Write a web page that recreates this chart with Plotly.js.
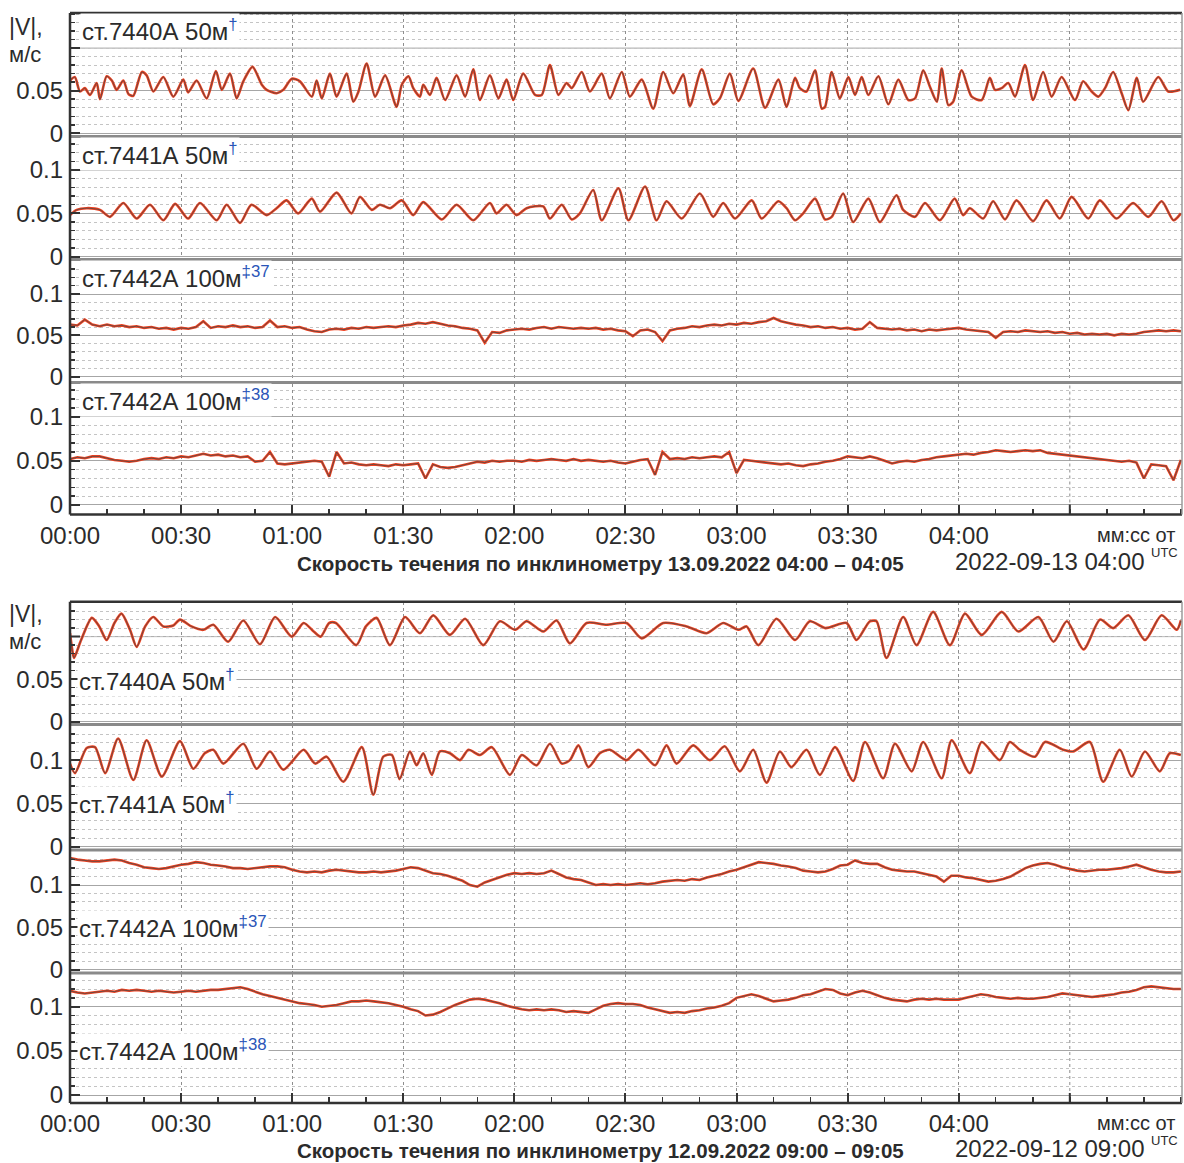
<!DOCTYPE html>
<html>
<head>
<meta charset="utf-8">
<script src="https://cdn.plot.ly/plotly-3.0.1.min.js"></script>
<style>
html,body{margin:0;padding:0;background:#fff;}
#chart{width:1184px;height:1163px;}
</style>
</head>
<body>
<div id="chart"></div>
<script>
// ---------------- DATA (seconds from start, |V| in m/s) ----------------
// Upper group: 13.09.2022 04:00-04:05
const top7440t = [0.0,1.3,2.7,4.0,5.4,7.2,8.1,9.9,11.3,12.6,14.4,15.8,17.1,19.4,20.7,22.5,25.2,27.9,30.6,31.9,34.2,36.9,39.4,41.0,43.2,45.0,46.8,49.3,51.8,53.1,55.8,57.6,59.9,62.1,65.3,66.6,68.0,70.2,72.0,74.7,76.5,77.9,80.1,82.4,85.1,88.2,89.6,91.4,92.7,94.5,95.4,97.2,99.0,101.3,104.4,106.7,108.9,110.7,113.4,115.7,117.9,119.7,122.4,125.6,127.4,129.6,131.9,134.1,135.5,138.2,140.4,143.6,145.8,149.0,151.2,154.4,157.5,160.2,162.9,165.6,167.4,170.6,173.7,175.5,178.2,180.5,184.5,187.7,191.3,193.5,195.8,197.1,198.9,201.2,203.0,203.9,205.7,207.9,210.2,212.0,213.8,215.6,218.3,221.0,223.7,226.4,228.2,230.4,232.2,234.1,235.4,237.2,238.5,240.8,243.5,246.2,248.4,249.8,251.6,253.4,255.2,257.9,260.1,262.8,265.1,267.8,271.4,273.6,275.9,277.7,279.5,281.7,284.0,285.8,288.1,289.8,293.9,296.6,299.8];
const top7440v = [0.062,0.066,0.049,0.053,0.045,0.059,0.040,0.067,0.062,0.051,0.062,0.046,0.044,0.072,0.068,0.049,0.066,0.043,0.063,0.048,0.062,0.041,0.073,0.051,0.070,0.041,0.061,0.078,0.057,0.051,0.047,0.051,0.064,0.061,0.043,0.062,0.041,0.070,0.043,0.070,0.037,0.049,0.082,0.043,0.068,0.031,0.057,0.067,0.053,0.043,0.057,0.045,0.065,0.039,0.068,0.043,0.075,0.039,0.068,0.041,0.063,0.039,0.070,0.045,0.045,0.080,0.045,0.059,0.053,0.072,0.049,0.070,0.041,0.072,0.043,0.063,0.029,0.072,0.047,0.069,0.032,0.075,0.034,0.041,0.070,0.038,0.076,0.030,0.063,0.031,0.065,0.053,0.049,0.074,0.029,0.031,0.072,0.041,0.066,0.045,0.066,0.045,0.067,0.034,0.063,0.039,0.041,0.074,0.055,0.037,0.076,0.033,0.037,0.074,0.043,0.039,0.065,0.051,0.053,0.059,0.043,0.080,0.039,0.072,0.043,0.066,0.039,0.061,0.049,0.043,0.053,0.072,0.047,0.027,0.065,0.037,0.066,0.049,0.051];

const top7441t = [0.0,1.8,4.5,8.1,10.8,14.4,18.0,21.6,25.2,28.4,31.9,35.1,39.6,42.3,45.9,49.0,53.1,55.8,58.5,61.6,65.3,67.5,72.0,76.0,78.3,81.5,83.7,86.4,89.6,92.7,95.4,100.4,104.4,108.9,113.4,115.2,117.9,120.6,123.3,127.8,129.6,132.8,135.5,137.7,141.3,143.6,148.1,150.8,155.3,158.4,161.1,165.2,170.1,173.7,176.4,179.6,184.1,186.8,191.3,193.5,195.8,198.0,201.2,203.9,205.7,208.8,211.5,215.6,218.7,223.2,225.0,228.2,230.9,234.9,238.9,241.2,243.0,246.6,249.3,252.5,255.6,260.1,263.7,267.3,270.5,275.0,278.1,282.6,287.1,291.2,294.8,298.0,300.0];
const top7441v = [0.048,0.054,0.056,0.054,0.046,0.062,0.044,0.060,0.042,0.061,0.044,0.062,0.042,0.060,0.039,0.060,0.048,0.056,0.065,0.050,0.067,0.052,0.074,0.050,0.069,0.054,0.060,0.056,0.065,0.048,0.063,0.043,0.060,0.042,0.062,0.050,0.060,0.048,0.056,0.058,0.044,0.060,0.043,0.050,0.077,0.042,0.079,0.042,0.081,0.042,0.064,0.044,0.073,0.046,0.062,0.044,0.065,0.044,0.064,0.056,0.042,0.050,0.067,0.043,0.046,0.073,0.040,0.067,0.040,0.071,0.054,0.046,0.062,0.042,0.067,0.048,0.056,0.044,0.064,0.043,0.065,0.041,0.065,0.044,0.069,0.044,0.065,0.044,0.062,0.046,0.064,0.042,0.050];

// 2-second samples, t = 0, 2, 4 ... 300
const top7442a = [
0.063,0.062,0.069,0.063,0.061,0.063,0.061,0.062,0.060,0.061,
0.059,0.060,0.058,0.059,0.057,0.059,0.058,0.060,0.067,0.059,
0.061,0.060,0.062,0.060,0.061,0.059,0.060,0.068,0.060,0.061,
0.059,0.060,0.057,0.055,0.054,0.057,0.058,0.057,0.059,0.058,
0.060,0.059,0.060,0.061,0.060,0.062,0.063,0.065,0.064,0.066,
0.064,0.062,0.061,0.059,0.058,0.056,0.041,0.054,0.053,0.056,
0.057,0.058,0.057,0.059,0.060,0.058,0.060,0.059,0.058,0.059,
0.058,0.059,0.057,0.058,0.056,0.055,0.049,0.056,0.057,0.054,
0.043,0.056,0.058,0.059,0.061,0.060,0.062,0.063,0.062,0.064,
0.063,0.065,0.064,0.066,0.067,0.071,0.067,0.065,0.063,0.062,
0.060,0.061,0.059,0.060,0.058,0.059,0.057,0.058,0.066,0.059,
0.058,0.057,0.058,0.056,0.057,0.055,0.057,0.056,0.057,0.058,
0.059,0.057,0.056,0.055,0.054,0.047,0.054,0.055,0.054,0.056,
0.055,0.054,0.055,0.053,0.054,0.052,0.053,0.051,0.052,0.051,
0.052,0.050,0.052,0.051,0.052,0.054,0.055,0.056,0.055,0.056,
0.055];
const top7442b = [
0.052,0.054,0.053,0.055,0.055,0.053,0.051,0.050,0.049,0.050,
0.052,0.053,0.052,0.054,0.053,0.055,0.054,0.056,0.058,0.056,
0.057,0.055,0.056,0.054,0.055,0.049,0.050,0.060,0.047,0.046,
0.047,0.048,0.049,0.050,0.049,0.032,0.060,0.047,0.048,0.046,
0.045,0.046,0.045,0.044,0.046,0.045,0.046,0.047,0.030,0.046,
0.043,0.042,0.043,0.045,0.047,0.049,0.048,0.050,0.049,0.050,
0.050,0.049,0.051,0.050,0.051,0.052,0.051,0.050,0.052,0.050,
0.051,0.050,0.049,0.050,0.048,0.047,0.049,0.051,0.052,0.034,
0.060,0.052,0.053,0.052,0.054,0.053,0.054,0.055,0.054,0.060,
0.036,0.051,0.050,0.049,0.048,0.047,0.046,0.047,0.045,0.044,
0.046,0.047,0.049,0.050,0.052,0.055,0.054,0.053,0.055,0.053,
0.050,0.047,0.049,0.050,0.049,0.051,0.052,0.054,0.055,0.056,
0.057,0.058,0.057,0.059,0.060,0.062,0.061,0.060,0.061,0.062,
0.061,0.062,0.059,0.058,0.057,0.056,0.055,0.054,0.053,0.052,
0.051,0.050,0.049,0.050,0.048,0.030,0.046,0.045,0.044,0.028,
0.051];

// Lower group: 12.09.2022 09:00-09:05
const bot7440t = [0.0,0.7,1.1,3.0,5.9,7.9,9.9,12.0,13.9,16.2,18.0,20.3,22.5,25.2,27.9,29.7,32.8,36.0,38.7,42.7,46.8,51.3,55.4,59.9,63.1,65.8,67.7,70.0,71.8,77.3,79.9,82.8,86.4,90.5,94.5,98.1,102.6,106.7,111.6,116.1,120.2,123.3,127.8,131.4,135.0,139.5,144.9,150.3,154.4,160.2,166.5,171.9,176.4,180.5,182.7,185.9,190.8,195.8,199.8,204.0,209.7,212.4,216.0,217.8,220.5,225.0,228.6,233.1,237.6,241.7,246.2,251.6,256.1,261.5,265.6,269.2,273.7,278.2,281.7,285.8,290.3,294.8,298.9,300.0];
const bot7440v = [0.104,0.082,0.075,0.096,0.122,0.112,0.096,0.116,0.127,0.108,0.088,0.112,0.123,0.112,0.113,0.120,0.112,0.108,0.114,0.094,0.119,0.091,0.123,0.100,0.116,0.106,0.100,0.116,0.116,0.090,0.112,0.122,0.090,0.123,0.104,0.125,0.102,0.121,0.090,0.118,0.108,0.118,0.106,0.119,0.092,0.116,0.114,0.116,0.098,0.116,0.112,0.104,0.116,0.108,0.112,0.090,0.121,0.096,0.118,0.110,0.116,0.096,0.118,0.118,0.075,0.123,0.090,0.129,0.090,0.127,0.102,0.129,0.106,0.123,0.094,0.118,0.085,0.120,0.110,0.125,0.096,0.125,0.108,0.119];

const bot7441t = [0.0,1.35,4.5,6.75,9.5,13.0,17.1,20.7,24.8,29.7,33.3,36.4,38.7,41.4,46.8,50.4,54.0,57.6,63.1,66.2,69.3,73.8,78.8,81.9,84.6,86.9,89.0,91.8,93.6,95.4,97.7,99.9,102.6,105.3,107.6,110.7,113.9,118.8,122.0,126.0,129.6,132.8,135.0,137.3,140.0,143.1,145.8,150.3,153.5,158.0,161.1,163.8,168.3,172.8,176.8,180.9,184.5,188.1,191.7,194.8,198.9,202.5,206.6,211.5,214.7,219.6,222.8,227.3,230.4,235.4,238.1,243.0,246.2,251.1,253.8,256.5,260.6,263.3,268.2,270.9,275.4,279.0,283.5,286.7,290.3,294.3,297.0,300.0];
const bot7441v = [0.096,0.085,0.114,0.115,0.085,0.125,0.077,0.123,0.081,0.122,0.090,0.108,0.112,0.096,0.119,0.090,0.110,0.089,0.112,0.096,0.104,0.075,0.115,0.060,0.104,0.106,0.078,0.110,0.094,0.108,0.083,0.110,0.108,0.100,0.112,0.106,0.115,0.083,0.106,0.094,0.119,0.096,0.100,0.117,0.092,0.108,0.112,0.100,0.112,0.094,0.117,0.096,0.117,0.100,0.116,0.087,0.112,0.074,0.110,0.092,0.112,0.083,0.115,0.076,0.121,0.079,0.119,0.087,0.121,0.079,0.123,0.085,0.121,0.100,0.121,0.112,0.104,0.121,0.112,0.110,0.121,0.075,0.112,0.081,0.110,0.087,0.108,0.106];

const bot7442a = [
0.132,0.130,0.129,0.128,0.128,0.129,0.130,0.129,0.126,0.124,
0.121,0.120,0.119,0.120,0.122,0.124,0.125,0.127,0.126,0.124,
0.123,0.122,0.120,0.120,0.119,0.120,0.121,0.122,0.122,0.121,
0.118,0.116,0.115,0.116,0.115,0.117,0.118,0.117,0.116,0.115,
0.115,0.116,0.115,0.116,0.117,0.119,0.121,0.120,0.117,0.114,
0.113,0.111,0.108,0.105,0.100,0.098,0.103,0.106,0.109,0.112,
0.114,0.113,0.114,0.113,0.114,0.117,0.113,0.109,0.107,0.106,
0.103,0.100,0.101,0.100,0.101,0.100,0.101,0.102,0.101,0.102,
0.104,0.105,0.106,0.105,0.107,0.106,0.109,0.111,0.113,0.116,
0.118,0.121,0.124,0.127,0.126,0.125,0.123,0.122,0.120,0.117,
0.116,0.115,0.116,0.119,0.123,0.124,0.129,0.126,0.125,0.125,
0.121,0.118,0.117,0.116,0.116,0.114,0.112,0.110,0.104,0.111,
0.111,0.109,0.108,0.106,0.104,0.105,0.107,0.110,0.115,0.120,
0.123,0.125,0.126,0.124,0.121,0.119,0.117,0.116,0.117,0.118,
0.118,0.119,0.120,0.122,0.124,0.121,0.118,0.116,0.115,0.115,
0.116];
const bot7442b = [
0.118,0.116,0.115,0.116,0.117,0.118,0.117,0.119,0.118,0.119,
0.118,0.117,0.118,0.117,0.116,0.117,0.118,0.117,0.118,0.119,
0.119,0.120,0.121,0.122,0.120,0.117,0.114,0.112,0.110,0.108,
0.106,0.104,0.103,0.102,0.100,0.101,0.102,0.104,0.106,0.106,
0.107,0.106,0.105,0.104,0.102,0.100,0.097,0.095,0.090,0.091,
0.094,0.098,0.102,0.105,0.108,0.109,0.108,0.106,0.104,0.101,
0.099,0.097,0.096,0.097,0.096,0.097,0.096,0.094,0.095,0.094,
0.093,0.097,0.101,0.103,0.104,0.103,0.103,0.102,0.099,0.097,
0.095,0.093,0.094,0.093,0.095,0.096,0.098,0.099,0.101,0.104,
0.110,0.112,0.114,0.112,0.109,0.106,0.107,0.108,0.110,0.113,
0.114,0.117,0.120,0.119,0.115,0.113,0.116,0.118,0.116,0.113,
0.110,0.108,0.107,0.106,0.108,0.109,0.108,0.109,0.108,0.108,
0.108,0.110,0.112,0.114,0.113,0.111,0.110,0.109,0.110,0.109,
0.109,0.110,0.111,0.113,0.115,0.114,0.113,0.112,0.111,0.112,
0.113,0.114,0.116,0.117,0.119,0.122,0.123,0.122,0.121,0.120,
0.120];
const STEP = 2;

const tickSec = [0,30,60,90,120,150,180,210,240];
const tickText = ['00:00','00:30','01:00','01:30','02:00','02:30','03:00','03:30','04:00'];
const gridSec = [0,30,60,90,120,150,180,210,240,270];
const labels = ['ст.7440А 50м','ст.7441А 50м','ст.7442А 100м','ст.7442А 100м'];
const marks = ['†','†','‡37','‡38'];

// ---------------- LAYOUT (pixel geometry) ----------------
const W = 1184, H = 1163, PL = 70, PR = 1182;
const fy = p => 1 - p / H;
const fx = p => (p - PL) / (PR - PL);
const FONT = '"Liberation Sans", Arial, Helvetica, sans-serif';
const RED = '#f2401e', DARK = '#4a4a4a', TXT = '#2b2b2b', BLUE = '#2a55b8';

const panels = [
  {top:13,   bot:135.5, lo:-0.0026, hi:0.1412, first:true},
  {top:137.5,bot:258.5, lo:-0.0021, hi:0.1376},
  {top:260.5,bot:381.5, lo:-0.0058, hi:0.1405},
  {top:384,  bot:514.5, lo:-0.0108, hi:0.137, last:true},
  {top:601.7,bot:723.5, lo:-0.0020, hi:0.141, first:true},
  {top:725,  bot:849,   lo:-0.0027, hi:0.1406},
  {top:850.5,bot:972,   lo:-0.0028, hi:0.1408},
  {top:974,  bot:1103,  lo:-0.0090, hi:0.137, last:true}
];

function uniformT(arr){ return arr.map((_, i) => i * STEP); }

const series = [
  {t: top7440t, v: top7440v, shape:'spline'},
  {t: top7441t, v: top7441v, shape:'spline'},
  {t: uniformT(top7442a), v: top7442a, shape:'linear'},
  {t: uniformT(top7442b), v: top7442b, shape:'linear'},
  {t: bot7440t, v: bot7440v, shape:'spline'},
  {t: bot7441t, v: bot7441v, shape:'spline'},
  {t: uniformT(bot7442a), v: bot7442a, shape:'linear'},
  {t: uniformT(bot7442b), v: bot7442b, shape:'linear'}
];

const data = [];
const layout = {
  width: W, height: H,
  margin: {l: PL, r: W - PR, t: 0, b: 0},
  paper_bgcolor: '#fff', plot_bgcolor: '#fff',
  showlegend: false,
  font: {family: FONT, color: TXT},
  annotations: [], shapes: []
};

series.forEach((s, i) => {
  const n = i + 1, xa = 'x' + (n === 1 ? '' : n), ya = 'y' + (n === 1 ? '' : n);
  data.push({x: s.t, y: s.v, xaxis: xa, yaxis: ya, type: 'scatter', mode: 'lines',
    line: {color: RED, width: 2.6, shape: s.shape, smoothing: 0.7}, hoverinfo: 'skip'});
  data.push({x: s.t, y: s.v, xaxis: xa, yaxis: ya, type: 'scatter', mode: 'lines',
    line: {color: DARK, width: 0.8, shape: s.shape, smoothing: 0.7}, hoverinfo: 'skip'});

  const p = panels[i];
  const xk = 'xaxis' + (n === 1 ? '' : n), yk = 'yaxis' + (n === 1 ? '' : n);
  const xax = {
    domain: [0, 1], anchor: ya, range: [0, 300.3],
    tickmode: 'array', tickvals: gridSec,
    showgrid: true, gridcolor: '#8e8e8e', griddash: 'dot', gridwidth: 1,
    zeroline: false, showline: false, ticks: '', showticklabels: false, fixedrange: true
  };
  if (p.last) {
    Object.assign(xax, {
      tickvals: tickSec, ticktext: tickText,
      showticklabels: true, ticks: 'inside', ticklen: 10, tickwidth: 2, tickcolor: '#333',
      tickfont: {size: 24, color: TXT, family: FONT}, ticklabelstandoff: 4,
      minor: {dtick: 10, tick0: 0, ticks: 'inside', ticklen: 6, tickwidth: 1.5, tickcolor: '#333', showgrid: false}
    });
    // the 04:30 grid line (no label in the original)
    layout.shapes.push({type: 'line', xref: xa, yref: 'paper', x0: 270, x1: 270,
      y0: fy(p.bot), y1: fy(p.top), line: {color: '#8e8e8e', width: 1, dash: 'dot'}});
    layout.shapes.push({type: 'line', xref: xa, yref: 'paper', x0: 270, x1: 270,
      y0: fy(p.bot), y1: fy(p.bot - 10), line: {color: '#333', width: 2}});
  }
  layout[xk] = xax;
  layout[yk] = {
    domain: [fy(p.bot), fy(p.top)], anchor: xa, range: [p.lo, p.hi],
    tickmode: 'array', tickvals: p.first ? [0, 0.05] : [0, 0.05, 0.1],
    ticktext: p.first ? ['0', '0.05'] : ['0', '0.05', '0.1'],
    ticks: 'inside', ticklen: 10, tickwidth: 2, tickcolor: '#333',
    tickfont: {size: 24, color: TXT, family: FONT}, ticklabelstandoff: 6,
    showgrid: true, gridcolor: '#a6a6a6', gridwidth: 1,
    zeroline: false, showline: false, fixedrange: true,
    minor: {dtick: 0.01, tick0: 0, ticks: 'inside', ticklen: 5, tickwidth: 1.5, tickcolor: '#333',
            showgrid: true, gridcolor: '#c4c4c4', griddash: 'dot', gridwidth: 1}
  };
  if (p.first) {
    // major tick + grid at 0.1 without a label
    layout.shapes.push({type: 'line', xref: 'paper', yref: ya, x0: 0, x1: 1, y0: 0.1, y1: 0.1,
      line: {color: '#a6a6a6', width: 1}, layer: 'below'});
    layout.shapes.push({type: 'line', xref: 'paper', yref: ya, x0: 0, x1: fx(80), y0: 0.1, y1: 0.1,
      line: {color: '#333', width: 2}});
  }

  // panel label
  const grp = i < 4 ? 0 : 1, k = i % 4;
  const labY = grp === 0 ? [30, 154, 277, 400][k] : [680, 803, 927, 1050][k];
  layout.annotations.push({
    xref: 'paper', yref: 'paper', x: fx(grp === 0 ? 80 : 77), y: fy(labY),
    xanchor: 'left', yanchor: 'middle', showarrow: false,
    bgcolor: '#ffffff', borderpad: 1,
    text: labels[k] + '<sup style="color:' + BLUE + '">' + marks[k] + '</sup>',
    font: {size: 24, color: TXT, family: FONT}
  });

  // separator below panels 1-3
  if (!p.last) {
    layout.shapes.push({type: 'line', xref: 'paper', yref: 'paper', x0: 0, x1: 1,
      y0: fy(p.bot + 1), y1: fy(p.bot + 1), line: {color: '#8a8a8a', width: 3}});
  }
});

// frames of both groups
[[13, 514.5], [601.7, 1103]].forEach(([t, b]) => {
  layout.shapes.push({type: 'line', xref: 'paper', yref: 'paper', x0: 0, x1: 1, y0: fy(t), y1: fy(t), line: {color: '#333', width: 2.5}});
  layout.shapes.push({type: 'line', xref: 'paper', yref: 'paper', x0: 0, x1: 1, y0: fy(b), y1: fy(b), line: {color: '#333', width: 2.5}});
  layout.shapes.push({type: 'line', xref: 'paper', yref: 'paper', x0: 0, x1: 0, y0: fy(b), y1: fy(t), line: {color: '#333', width: 2.5}});
  layout.shapes.push({type: 'line', xref: 'paper', yref: 'paper', x0: 1, x1: 1, y0: fy(b), y1: fy(t), line: {color: '#9a9a9a', width: 1.5}});
});

// group texts
const groupText = [
  {vy: 27, my: 54, ty: 535, title: 'Скорость течения по инклинометру 13.09.2022 04:00 – 04:05', titleY: 563, date: '2022-09-13 04:00', dateY: 561},
  {vy: 614, my: 641, ty: 1123, title: 'Скорость течения по инклинометру 12.09.2022 09:00 – 09:05', titleY: 1150, date: '2022-09-12 09:00', dateY: 1148}
];
groupText.forEach(g => {
  const A = (text, px, py, size, xanchor, extra) => layout.annotations.push(Object.assign({
    xref: 'paper', yref: 'paper', x: fx(px), y: fy(py), xanchor: xanchor, yanchor: 'middle',
    showarrow: false, text: text, font: {size: size, color: TXT, family: FONT}
  }, extra || {}));
  A('|V|,', 8, g.vy, 23, 'left', {borderpad: 0});
  A('м/с', 8, g.my, 22, 'left', {borderpad: 0});
  A('мм:сс от', 1177, g.ty, 20, 'right');
  A('<b>' + g.title + '</b>', 600, g.titleY, 20.5, 'center');
  A(g.date, 953, g.dateY, 24, 'left');
  A('UTC', 1149, g.dateY - 8, 13, 'left');
});

Plotly.newPlot('chart', data, layout, {staticPlot: true, displayModeBar: false});
</script>
</body>
</html>
